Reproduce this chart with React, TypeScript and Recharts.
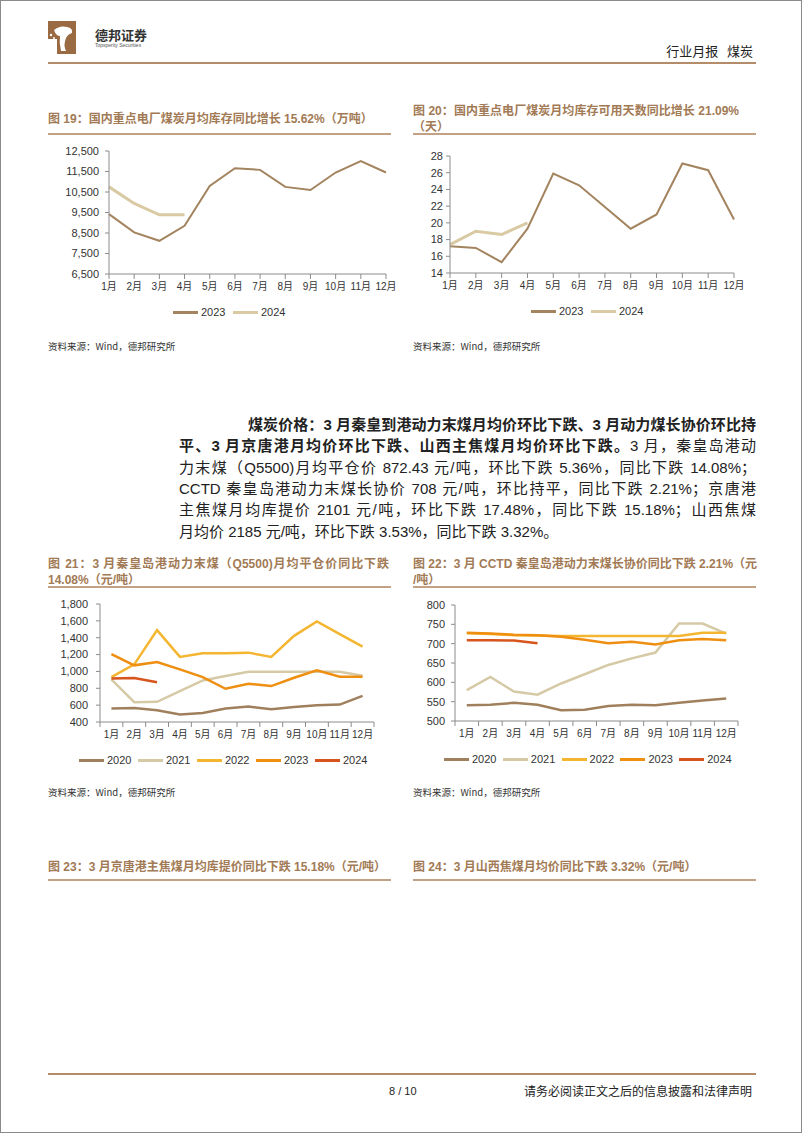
import React from 'react';
import { LineChart, Line, XAxis, YAxis, Legend } from 'recharts';

// 月份类目
const months = ['1月', '2月', '3月', '4月', '5月', '6月', '7月', '8月', '9月', '10月', '11月', '12月'];

// 图19 电厂煤炭库存（万吨）
const stock2023 = [9420, 8530, 8120, 8850, 10800, 11660, 11580, 10750, 10600, 11450, 12010, 11450];
const stock2024 = [10750, 9940, 9390, 9390];
const stockTicks = [6500, 7500, 8500, 9500, 10500, 11500, 12500];

// 图20 库存可用天数（天）
const days2023 = [17.2, 17.0, 15.3, 19.3, 25.9, 24.5, 21.9, 19.3, 21.0, 27.1, 26.3, 20.4];
const days2024 = [17.4, 19.0, 18.6, 20.0];
const daysTicks = [14, 16, 18, 20, 22, 24, 26, 28];

// 图21 秦皇岛港动力末煤平仓价（元/吨）
const qhd2020 = [560, 565, 540, 488, 508, 560, 583, 551, 579, 599, 607, 710];
const qhd2021 = [905, 635, 639, 766, 893, 945, 997, 997, 997, 997, 995, 950];
const qhd2022 = [933, 1084, 1490, 1172, 1215, 1215, 1223, 1172, 1422, 1593, 1442, 1295];
const qhd2023 = [1204, 1072, 1112, 1025, 933, 794, 854, 826, 925, 1013, 937, 937];
const qhd2024 = [917, 921, 872];
const qhdTicks = [400, 600, 800, 1000, 1200, 1400, 1600, 1800];

// 图22 CCTD 长协价（元/吨）
const cctd2020 = [541, 542, 547, 542, 528, 529, 539, 542, 541, 547, 553, 558];
const cctd2021 = [580, 614, 576, 568, 597, 621, 645, 662, 677, 752, 752, 726];
const cctd2022 = [727, 725, 722, 721, 720, 720, 720, 720, 720, 720, 728, 728];
const cctd2023 = [728, 726, 723, 722, 718, 710, 701, 705, 698, 709, 712, 709];
const cctd2024 = [709, 709, 708, 701];
const cctdTicks = [500, 550, 600, 650, 700, 750, 800];

const AXIS = '#8c8c8c';
const BROWN = '#b48c6a';
const TITLE = '#a27a55';
const NUM_FONT = '"Liberation Sans", Arial, "Noto Sans CJK SC", sans-serif';
const CJK = '"Noto Sans CJK SC", sans-serif';

type Series = { name: string; values: number[]; color: string; width: number };

// 刻度线画在类目边界上，标签在类目中间
const BandTick = (props: any) => {
  const { x, y, payload, index, bw, last } = props;
  return (
    <g>
      <line x1={x - bw / 2} x2={x - bw / 2} y1={y - 9} y2={y - 4} stroke={AXIS} />
      {index === last && <line x1={x + bw / 2} x2={x + bw / 2} y1={y - 9} y2={y - 4} stroke={AXIS} />}
      <text x={x} y={y} dy="0.71em" textAnchor="middle" fontSize={10} fill="#333" fontFamily={NUM_FONT}>
        {payload.value}
      </text>
    </g>
  );
};

const LegendRow = ({ payload, left }: any) => (
  <div style={{ height: 30, boxSizing: 'border-box', paddingTop: 13, paddingLeft: left, display: 'flex' }}>
    {(payload || []).map((p: any) => (
      <div key={p.value} style={{ display: 'flex', alignItems: 'center', width: 60, height: 14 }}>
        <span style={{ display: 'inline-block', width: 25, height: 3, background: p.color, marginRight: 3 }} />
        <span style={{ fontFamily: NUM_FONT, fontSize: 11, color: '#333' }}>{p.value}</span>
      </div>
    ))}
  </div>
);

function MonthChart(props: {
  left: number; top: number; width: number; height: number; yWidth: number; tickMargin: number;
  ticks: number[]; series: Series[]; band: boolean; legendLeft: number; right?: number;
}) {
  const { left, top, width, height, yWidth, tickMargin, ticks, series, band, legendLeft, right = 10 } = props;
  const data = months.map((m, i) => {
    const row: any = { month: m };
    series.forEach((s) => {
      if (i < s.values.length) row[s.name] = s.values[i];
    });
    return row;
  });
  const margin = { top: 10, right, bottom: 4, left: 0 };
  const plotW = width - margin.left - margin.right - yWidth;
  const bw = plotW / months.length;

  return (
    <div style={{ position: 'absolute', left, top }}>
      <LineChart width={width} height={height} data={data} margin={margin}>
        <XAxis
          dataKey="month"
          interval={0}
          height={18}
          axisLine={{ stroke: AXIS }}
          padding={band ? { left: bw / 2, right: bw / 2 } : undefined}
          tickLine={band ? false : { stroke: AXIS }}
          tickSize={5}
          tickMargin={4}
          tick={
            band
              ? (p: any) => <BandTick {...p} bw={bw} last={months.length - 1} />
              : { fontSize: 10, fill: '#333', fontFamily: NUM_FONT }
          }
        />
        <YAxis
          width={yWidth}
          type="number"
          domain={[ticks[0], ticks[ticks.length - 1]]}
          ticks={ticks}
          interval={0}
          axisLine={{ stroke: AXIS }}
          tickLine={{ stroke: AXIS }}
          tickSize={4}
          tickMargin={tickMargin}
          tick={{ fontSize: 11, fill: '#333', fontFamily: NUM_FONT }}
          tickFormatter={(v: number) => v.toLocaleString('en-US')}
        />
        <Legend
          verticalAlign="bottom"
          wrapperStyle={{ height: 30 }}
          content={(lp: any) => <LegendRow payload={lp.payload} left={legendLeft} />}
        />
        {series.map((s) => (
          <Line
            key={s.name}
            dataKey={s.name}
            name={s.name}
            type="linear"
            stroke={s.color}
            strokeWidth={s.width}
            dot={false}
            activeDot={false}
            isAnimationActive={false}
          />
        ))}
      </LineChart>
    </div>
  );
}

const Title = ({ left, top, width, lines }: { left: number; top: number; width: number; lines: string[] }) => (
  <div style={{ position: 'absolute', left, top, width, fontFamily: NUM_FONT, fontWeight: 700, fontSize: 12, color: TITLE, lineHeight: '16px' }}>
    {lines.map((l, i) => (
      <div
        key={i}
        style={{ whiteSpace: 'nowrap', textAlign: 'justify', textAlignLast: i < lines.length - 1 ? 'justify' : 'left' }}
      >
        {l}
      </div>
    ))}
  </div>
);

const Rule = ({ left, top, width, h = 2, color = '#c2a184' }: any) => (
  <div style={{ position: 'absolute', left, top, width, height: h, background: color }} />
);

const Source = ({ left, top }: { left: number; top: number }) => (
  <div style={{ position: 'absolute', left, top, fontFamily: CJK, fontSize: 9.5, color: '#333', lineHeight: '12px' }}>
    资料来源：Wind，德邦研究所
  </div>
);

const paraLines: { bold: string; normal: string; left: number }[] = [
  { bold: '煤炭价格：3 月秦皇到港动力末煤月均价环比下跌、3 月动力煤长协价环比持', normal: '', left: 247 },
  { bold: '平、3 月京唐港月均价环比下跌、山西主焦煤月均价环比下跌。', normal: '3 月，秦皇岛港动', left: 178 },
  { bold: '', normal: '力末煤（Q5500)月均平仓价 872.43 元/吨，环比下跌 5.36%，同比下跌 14.08%；', left: 178 },
  { bold: '', normal: 'CCTD 秦皇岛港动力末煤长协价 708 元/吨，环比持平，同比下跌 2.21%；京唐港', left: 178 },
  { bold: '', normal: '主焦煤月均库提价 2101 元/吨，环比下跌 17.48%，同比下跌 15.18%；山西焦煤', left: 178 },
  { bold: '', normal: '月均价 2185 元/吨，环比下跌 3.53%，同比下跌 3.32%。', left: 178 },
];

export default function App() {
  return (
    <div
      style={{
        position: 'absolute', left: 0, top: 0, width: 802, height: 1133, boxSizing: 'border-box',
        border: '1px solid #8a8a8a', background: '#fff', overflow: 'hidden', fontFamily: CJK,
      }}
    >
      {/* 页眉 */}
      <svg style={{ position: 'absolute', left: 47, top: 20 }} width={30} height={34}>
        <path d="M0 0 H28 V33 H9 V18 H0 Z" fill="#9a6b43" />
        <path d="M6 9 Q12 4 19 6 Q25 7 24 12 Q20 13 18 17 Q15 24 18 30 H13 Q11 22 12 15 Q8 15 6 9 Z" fill="#fff" />
        <circle cx={3} cy={14} r={1.2} fill="#fff" />
        <circle cx={6} cy={17} r={1} fill="#fff" />
      </svg>
      <div style={{ position: 'absolute', left: 94, top: 26, fontFamily: CJK, fontWeight: 700, fontSize: 13, color: '#333', lineHeight: '15px' }}>
        德邦证券
      </div>
      <div style={{ position: 'absolute', left: 94, top: 41, fontFamily: NUM_FONT, fontSize: 5, color: '#555', lineHeight: '6px' }}>
        Topsperity Securities
      </div>
      <div style={{ position: 'absolute', right: 48, top: 42, fontFamily: CJK, fontSize: 13, color: '#222', lineHeight: '16px' }}>
        行业月报&nbsp;&nbsp;&nbsp;煤炭
      </div>
      <Rule left={47} top={61} width={708} h={2} color={BROWN} />

      {/* 图19 / 图20 */}
      <Title left={47} top={110} width={343} lines={['图 19：国内重点电厂煤炭月均库存同比增长 15.62%（万吨）']} />
      <Rule left={47} top={132} width={343} />
      <Title left={412} top={102} width={326} lines={['图 20：国内重点电厂煤炭月均库存可用天数同比增长 21.09%', '（天）']} />
      <Rule left={412} top={132} width={343} />

      <MonthChart
        left={40} top={140} width={355} height={185} yWidth={68} tickMargin={6}
        ticks={stockTicks} band={false} legendLeft={132}
        series={[
          { name: '2023', values: stock2023, color: '#a3845f', width: 2 },
          { name: '2024', values: stock2024, color: '#d9caa3', width: 3 },
        ]}
      />
      <MonthChart
        left={405} top={145} width={338} height={179} yWidth={44} tickMargin={3}
        ticks={daysTicks} band={false} legendLeft={125}
        series={[
          { name: '2023', values: days2023, color: '#a3845f', width: 2 },
          { name: '2024', values: days2024, color: '#d9caa3', width: 3 },
        ]}
      />
      <Source left={47} top={339} />
      <Source left={412} top={339} />

      {/* 正文 */}
      {paraLines.map((l, i) => (
        <div
          key={i}
          style={{
            position: 'absolute', left: l.left, top: 413 + i * 21.3, width: 755 - l.left,
            fontFamily: NUM_FONT, fontSize: 15, lineHeight: '21px', color: '#222', whiteSpace: 'nowrap',
            textAlign: 'justify', textAlignLast: i < paraLines.length - 1 ? 'justify' : 'left',
          }}
        >
          {l.bold && <b>{l.bold}</b>}
          {l.normal}
        </div>
      ))}

      {/* 图21 / 图22 */}
      <Title left={47} top={555} width={341} lines={['图 21：3 月秦皇岛港动力末煤（Q5500)月均平仓价同比下跌', '14.08%（元/吨）']} />
      <Rule left={47} top={585} width={343} />
      <Title left={412} top={555} width={340} lines={['图 22：3 月 CCTD 秦皇岛港动力末煤长协价同比下跌 2.21%（元', '/吨）']} />
      <Rule left={412} top={585} width={343} />

      <MonthChart
        left={40} top={593} width={343} height={180} yWidth={59} tickMargin={8}
        ticks={qhdTicks} band={true} legendLeft={38}
        series={[
          { name: '2020', values: qhd2020, color: '#a0805c', width: 2.5 },
          { name: '2021', values: qhd2021, color: '#d6c9a6', width: 2.5 },
          { name: '2022', values: qhd2022, color: '#f4b631', width: 2.5 },
          { name: '2023', values: qhd2023, color: '#ef8f12', width: 2.5 },
          { name: '2024', values: qhd2024, color: '#d7541c', width: 2.5 },
        ]}
      />
      <MonthChart
        left={405} top={594} width={342} height={178} yWidth={49} tickMargin={6}
        ticks={cctdTicks} band={true} legendLeft={38}
        series={[
          { name: '2020', values: cctd2020, color: '#a0805c', width: 2.5 },
          { name: '2021', values: cctd2021, color: '#d6c9a6', width: 2.5 },
          { name: '2022', values: cctd2022, color: '#f4b631', width: 2.5 },
          { name: '2023', values: cctd2023, color: '#ef8f12', width: 2.5 },
          { name: '2024', values: cctd2024, color: '#d7541c', width: 2.5 },
        ]}
      />
      <Source left={47} top={785} />
      <Source left={412} top={785} />

      {/* 图23 / 图24 */}
      <Title left={47} top={858} width={343} lines={['图 23：3 月京唐港主焦煤月均库提价同比下跌 15.18%（元/吨）']} />
      <Rule left={47} top={878} width={343} />
      <Title left={412} top={858} width={343} lines={['图 24：3 月山西焦煤月均价同比下跌 3.32%（元/吨）']} />
      <Rule left={412} top={878} width={343} />

      {/* 页脚 */}
      <Rule left={47} top={1072} width={708} h={2} color={BROWN} />
      <div style={{ position: 'absolute', left: 388, top: 1083, fontFamily: NUM_FONT, fontSize: 11, color: '#222', lineHeight: '14px' }}>
        8 / 10
      </div>
      <div style={{ position: 'absolute', right: 49, top: 1082, fontFamily: CJK, fontSize: 12, color: '#222', lineHeight: '16px' }}>
        请务必阅读正文之后的信息披露和法律声明
      </div>
    </div>
  );
}
